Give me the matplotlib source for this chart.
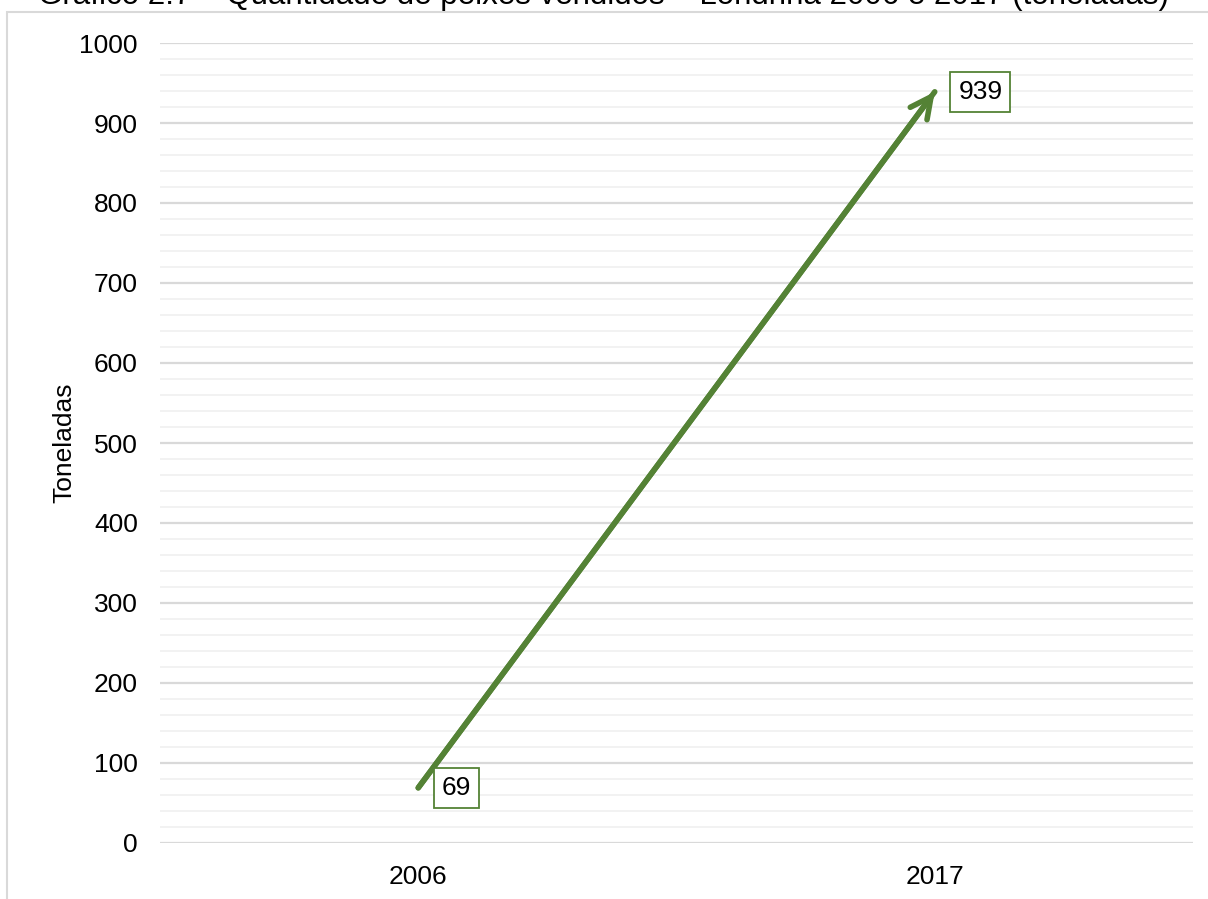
import matplotlib.pyplot as plt
from matplotlib.patches import Rectangle
from matplotlib.ticker import MultipleLocator

# ==========================
# 数据
# ==========================
anos = ["2006", "2017"]
toneladas = [69, 939]

titulo = "Gráfico 2.7 – Quantidade de peixes vendidos – Londrina 2006 e 2017 (toneladas)"
y_label = "Toneladas"

VERDE = "#548235"
FS = 19
plt.rcParams["font.family"] = ["Liberation Sans", "DejaVu Sans"]

fig = plt.figure(figsize=(12.08, 8.99), dpi=100)

# moldura do gráfico (cortada pela imagem)
fig.patches.append(Rectangle((7 / 1208, -0.1), 1.2, (899 - 12) / 899 + 0.1,
                             transform=fig.transFigure, fill=False,
                             edgecolor="#d9d9d9", linewidth=1.5))

# título cortado no topo, como na imagem original
fig.text(0.5, 1.004, titulo, ha="center", va="center", fontsize=22.5)

ax = fig.add_axes([160 / 1208, (899 - 843) / 899, (1193 - 160) / 1208, 800 / 899])

x = list(range(len(anos)))
ax.set_xlim(-0.5, len(anos) - 0.5)
ax.set_ylim(0, 1000)
ax.yaxis.set_major_locator(MultipleLocator(100))
ax.yaxis.set_minor_locator(MultipleLocator(20))
ax.grid(True, which="major", axis="y", color="#d9d9d9", linewidth=1.6)
ax.grid(True, which="minor", axis="y", color="#f2f2f2", linewidth=1.4)
ax.set_axisbelow(True)
for s in ax.spines.values():
    s.set_visible(False)
ax.tick_params(which="both", length=0, labelsize=FS)
ax.tick_params(axis="y", pad=16)
ax.tick_params(axis="x", pad=16)
ax.set_xticks(x)
ax.set_xticklabels(anos)
ax.set_ylabel(y_label, fontsize=FS, labelpad=2)

# linha com seta
ax.annotate("", xy=(x[1], toneladas[1]), xytext=(x[0], toneladas[0]),
            arrowprops=dict(arrowstyle="-", color=VERDE, lw=4,
                            capstyle="round", shrinkA=0, shrinkB=0))
ax.annotate("", xy=(x[1], toneladas[1]), xytext=(x[0], toneladas[0]),
            arrowprops=dict(arrowstyle="->,head_length=1.5,head_width=0.75",
                            color=VERDE, lw=4, shrinkA=0, shrinkB=0,
                            capstyle="round", joinstyle="round"))

# rótulos de dados
for xi, v in zip(x, toneladas):
    ax.annotate(str(v), xy=(xi, v), xytext=(17, 0), textcoords="offset points",
                ha="left", va="center", fontsize=FS,
                bbox=dict(boxstyle="square,pad=0.3", fc="white", ec=VERDE, lw=1.3))

fig.savefig("out.png", dpi=100)
